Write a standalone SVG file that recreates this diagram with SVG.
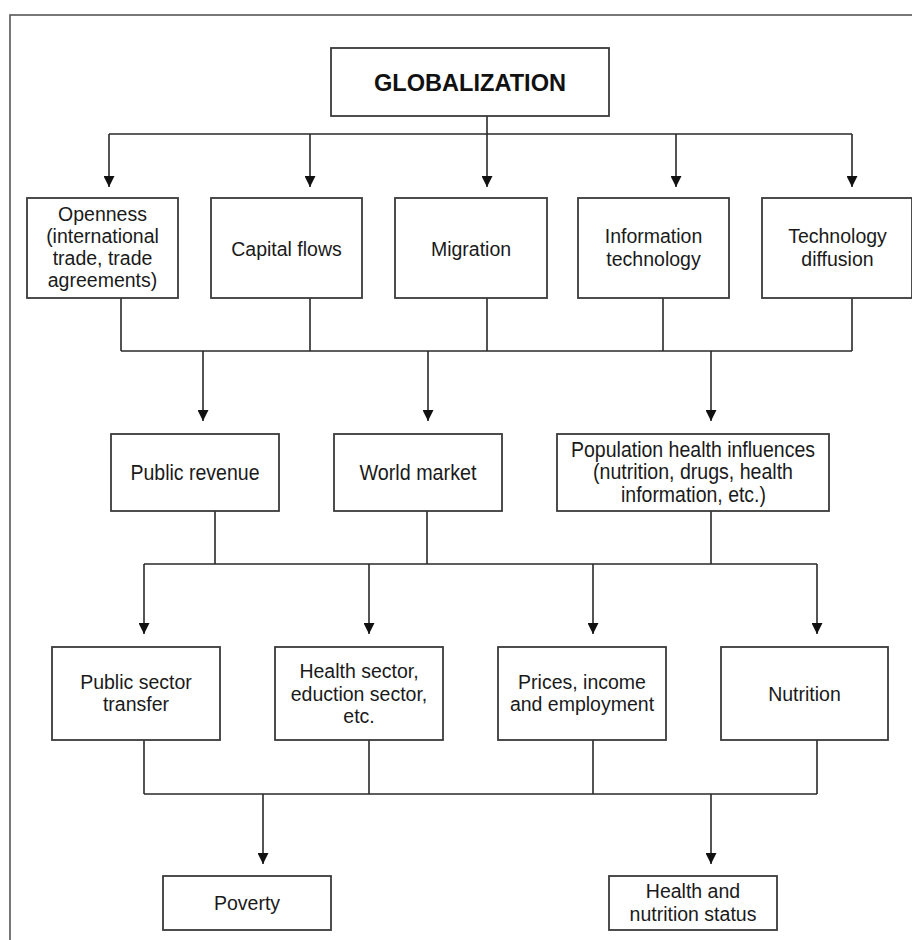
<svg xmlns="http://www.w3.org/2000/svg" width="912" height="940" viewBox="0 0 912 940">
<style>
.box{fill:#fff;stroke:#3a3a3a;stroke-width:1.8}
.ln{fill:none;stroke:#2a2a2a;stroke-width:1.6}
.t{font-family:"Liberation Sans",Arial,sans-serif;font-size:19.5px;fill:#1a1a1a;text-anchor:middle}
.n{font-family:"Liberation Sans",Arial,sans-serif;font-size:21.5px;fill:#1a1a1a;text-anchor:middle}
.b{font-family:"Liberation Sans",Arial,sans-serif;font-size:23.5px;font-weight:bold;fill:#111;text-anchor:middle}
</style>
<defs>
<marker id="ah" markerUnits="userSpaceOnUse" markerWidth="11" markerHeight="11" refX="11" refY="5.5" orient="auto">
<path d="M0,0 L11,5.5 L0,11 z" fill="#111"/>
</marker>
</defs>
<rect x="10" y="15" width="930" height="960" fill="none" stroke="#555" stroke-width="1.6"/>

<g id="connectors">
<path class="ln" d="M487,116 V134 M109,134 H852"/>
<path class="ln" d="M109,134 V187" marker-end="url(#ah)"/>
<path class="ln" d="M310,134 V187" marker-end="url(#ah)"/>
<path class="ln" d="M487,134 V187" marker-end="url(#ah)"/>
<path class="ln" d="M676,134 V187" marker-end="url(#ah)"/>
<path class="ln" d="M852,134 V187" marker-end="url(#ah)"/>

<path class="ln" d="M121,298 V351 M310,298 V351 M487,298 V351 M663,298 V351 M852,298 V351 M121,351 H852"/>
<path class="ln" d="M203,351 V421" marker-end="url(#ah)"/>
<path class="ln" d="M428,351 V421" marker-end="url(#ah)"/>
<path class="ln" d="M711,351 V421" marker-end="url(#ah)"/>

<path class="ln" d="M215,511 V564 M427,511 V564 M711,511 V564 M144,564 H817"/>
<path class="ln" d="M144,564 V634" marker-end="url(#ah)"/>
<path class="ln" d="M369,564 V634" marker-end="url(#ah)"/>
<path class="ln" d="M593,564 V634" marker-end="url(#ah)"/>
<path class="ln" d="M817,564 V634" marker-end="url(#ah)"/>

<path class="ln" d="M144,740 V794 M369,740 V794 M593,740 V794 M817,740 V794 M144,794 H817"/>
<path class="ln" d="M263,794 V864" marker-end="url(#ah)"/>
<path class="ln" d="M711,794 V864" marker-end="url(#ah)"/>
</g>

<g id="globalization">
<rect class="box" x="331" y="48" width="278" height="68"/>
<text class="b" x="470" y="91" textLength="192" lengthAdjust="spacingAndGlyphs">GLOBALIZATION</text>
</g>

<g id="openness">
<rect class="box" x="27" y="198" width="151" height="100"/>
<text class="t" x="102.5" y="221">Openness</text>
<text class="t" x="102.5" y="243">(international</text>
<text class="t" x="102.5" y="265">trade, trade</text>
<text class="t" x="102.5" y="287">agreements)</text>
</g>

<g id="capital-flows">
<rect class="box" x="211" y="198" width="151" height="100"/>
<text class="t" x="286.5" y="256">Capital flows</text>
</g>

<g id="migration">
<rect class="box" x="395" y="198" width="152" height="100"/>
<text class="t" x="471" y="256">Migration</text>
</g>

<g id="information-technology">
<rect class="box" x="578" y="198" width="151" height="100"/>
<text class="t" x="653.5" y="243">Information</text>
<text class="t" x="653.5" y="266">technology</text>
</g>

<g id="technology-diffusion">
<rect class="box" x="762" y="198" width="150" height="100"/>
<text class="t" x="837.5" y="243">Technology</text>
<text class="t" x="837.5" y="266">diffusion</text>
</g>

<g id="public-revenue">
<rect class="box" x="111" y="434" width="168" height="77"/>
<text class="n" x="195" y="480" textLength="129" lengthAdjust="spacingAndGlyphs">Public revenue</text>
</g>

<g id="world-market">
<rect class="box" x="334" y="434" width="168" height="77"/>
<text class="n" x="418" y="480" textLength="117" lengthAdjust="spacingAndGlyphs">World market</text>
</g>

<g id="population-health">
<rect class="box" x="557" y="434" width="272" height="77"/>
<text class="n" x="693" y="457" textLength="244" lengthAdjust="spacingAndGlyphs">Population health influences</text>
<text class="n" x="693" y="479" textLength="200" lengthAdjust="spacingAndGlyphs">(nutrition, drugs, health</text>
<text class="n" x="693.5" y="502" textLength="145" lengthAdjust="spacingAndGlyphs">information, etc.)</text>
</g>

<g id="public-sector-transfer">
<rect class="box" x="52" y="647" width="168" height="93"/>
<text class="t" x="136" y="689">Public sector</text>
<text class="t" x="136" y="711">transfer</text>
</g>

<g id="health-sector">
<rect class="box" x="275" y="647" width="168" height="93"/>
<text class="t" x="359" y="678">Health sector,</text>
<text class="t" x="359" y="701">eduction sector,</text>
<text class="t" x="359" y="723">etc.</text>
</g>

<g id="prices">
<rect class="box" x="498" y="647" width="168" height="93"/>
<text class="t" x="582" y="689">Prices, income</text>
<text class="t" x="582" y="711">and employment</text>
</g>

<g id="nutrition">
<rect class="box" x="721" y="647" width="167" height="93"/>
<text class="t" x="804.5" y="701">Nutrition</text>
</g>

<g id="poverty">
<rect class="box" x="163" y="876" width="168" height="54"/>
<text class="t" x="247" y="910">Poverty</text>
</g>

<g id="health-status">
<rect class="box" x="609" y="876" width="168" height="54"/>
<text class="t" x="693" y="898">Health and</text>
<text class="t" x="693" y="921">nutrition status</text>
</g>
</svg>
